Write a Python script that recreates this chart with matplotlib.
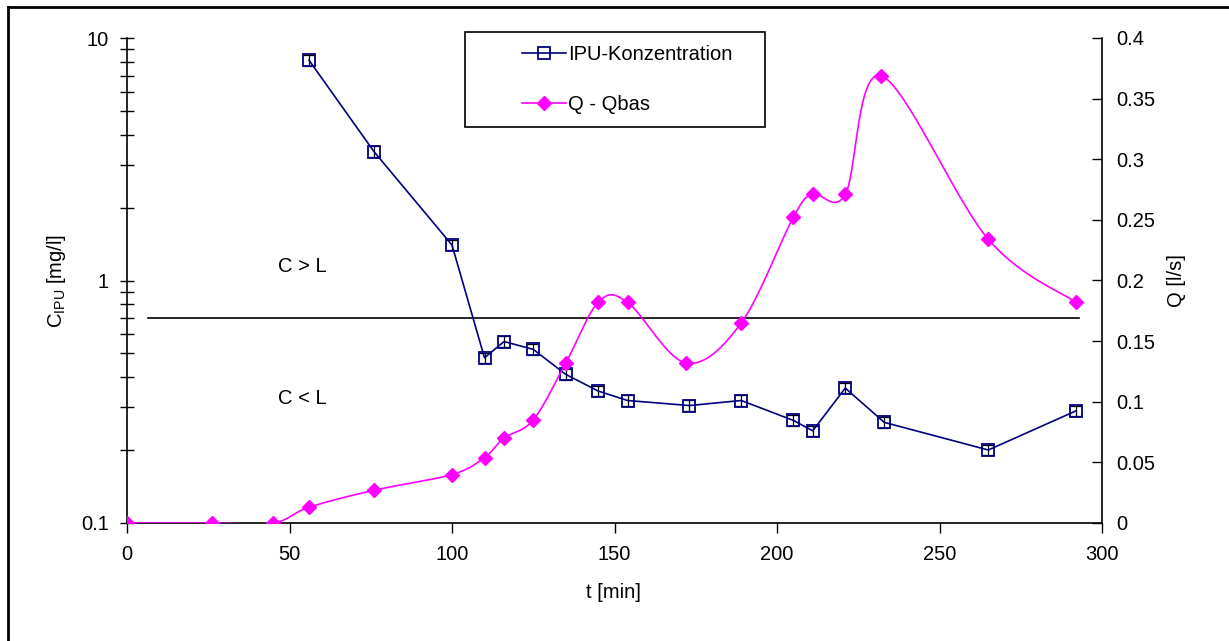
import numpy as np
import matplotlib.pyplot as plt
from matplotlib.patches import Rectangle
from matplotlib.lines import Line2D

plt.rcParams['font.family'] = ['Liberation Sans', 'DejaVu Sans']
plt.rcParams['mathtext.fontset'] = 'custom'
plt.rcParams['mathtext.rm'] = 'Liberation Sans'

# IPU concentration [mg/l]
t_ipu = [56, 76, 100, 110, 116, 125, 135, 145, 154, 173, 189, 205, 211, 221, 233, 265, 292]
c_ipu = [8.1, 3.4, 1.4, 0.48, 0.56, 0.52, 0.41, 0.35, 0.32, 0.305, 0.32, 0.265, 0.24, 0.36, 0.26, 0.2, 0.29]

# discharge Q - Qbas [l/s]
t_q = [0, 26, 45, 56, 76, 100, 110, 116, 125, 135, 145, 154, 172, 189, 205, 211, 221, 232, 265, 292]
q = [0, 0, 0, 0.013, 0.027, 0.040, 0.054, 0.070, 0.085, 0.132, 0.182, 0.182, 0.132, 0.165,
     0.252, 0.271, 0.271, 0.369, 0.234, 0.182]

# limit line
t_lim = [6.5, 293]
c_lim = [0.7, 0.7]

navy = '#000080'
magenta = '#FF00FF'
fs = 14.5


def smooth(x, y, n=20):
    # excel-style smoothed line (catmull-rom bezier)
    p = np.column_stack([x, y]).astype(float)
    p = np.vstack([p[0], p, p[-1]])
    out = []
    for i in range(1, len(p) - 2):
        p0, p1, p2, p3 = p[i - 1], p[i], p[i + 1], p[i + 2]
        b1 = p1 + (p2 - p0) / 6
        b2 = p2 - (p3 - p1) / 6
        s = np.linspace(0, 1, n)[:, None]
        out.append((1 - s) ** 3 * p1 + 3 * (1 - s) ** 2 * s * b1 + 3 * (1 - s) * s ** 2 * b2 + s ** 3 * p2)
    out = np.vstack(out)
    return out[:, 0], out[:, 1]


fig = plt.figure(figsize=(12.29, 6.41), dpi=100)
ax = fig.add_axes([127 / 1229, 1 - 523 / 641, (1102 - 127) / 1229, (523 - 38) / 641])

ax.plot(t_lim, c_lim, color='black', lw=1.2, zorder=2)
c_arr = np.array(c_ipu)
ax.errorbar(t_ipu, c_ipu, yerr=0.05 * c_arr, fmt='none', ecolor='black', elinewidth=0.9,
            capsize=4, capthick=0.9, zorder=3)
ax.plot(t_ipu, c_ipu, color=navy, lw=1.2, marker='s', ms=8, mfc='none', mec=navy, mew=1.3, zorder=4)

ax.set_yscale('log')
ax.set_ylim(0.1, 10)
ax.set_xlim(0, 300)
ax.set_xticks([0, 50, 100, 150, 200, 250, 300])
ax.set_yticks([0.1, 1, 10])
ax.set_yticklabels(['0.1', '1', '10'])
ax.tick_params(axis='y', which='both', direction='inout', length=10, width=1, labelsize=fs, pad=8)
ax.tick_params(axis='y', which='minor', labelleft=False)
ax.tick_params(axis='x', direction='out', length=7, width=1, labelsize=fs, pad=9)
for s in ['top', 'right']:
    ax.spines[s].set_visible(False)
ax.spines['left'].set_linewidth(1.2)
ax.spines['bottom'].set_linewidth(1.2)

ax2 = ax.twinx()
xs, ys = smooth(t_q, q)
ax2.plot(xs, ys, color=magenta, lw=1.2, zorder=3)
ax2.plot(t_q, q, ls='none', marker='D', ms=7, color=magenta, zorder=4)
ax2.set_ylim(0, 0.4)
ax2.set_yticks([0, 0.05, 0.1, 0.15, 0.2, 0.25, 0.3, 0.35, 0.4])
ax2.set_yticklabels(['0', '0.05', '0.1', '0.15', '0.2', '0.25', '0.3', '0.35', '0.4'])
ax2.tick_params(axis='y', direction='in', length=7, width=1, labelsize=fs, pad=10)
for s in ['top', 'left', 'bottom']:
    ax2.spines[s].set_visible(False)
ax2.spines['right'].set_linewidth(1.2)

ax.text(46.5, 1.14, 'C > L', fontsize=fs, ha='left', va='center')
ax.text(46.5, 0.326, 'C < L', fontsize=fs, ha='left', va='center')

fig.text(613 / 1229, 1 - 592 / 641, 't [min]', fontsize=fs, ha='center', va='center')
fig.text(57 / 1229, 1 - 281 / 641, r'C$_{\mathrm{IPU}}$ [mg/l]', fontsize=fs, rotation=90,
         ha='center', va='center')
fig.text(1177 / 1229, 1 - 281 / 641, 'Q [l/s]', fontsize=fs, rotation=90, ha='center', va='center')

# legend box
fig.patches.append(Rectangle((465 / 1229, 1 - 127 / 641), 300 / 1229, 95 / 641,
                             transform=fig.transFigure, fill=False, ec='black', lw=1.2))
h1 = Line2D([], [], color=navy, lw=1.2, marker='s', ms=8, mfc='none', mec=navy, mew=1.3)
h2 = Line2D([], [], color=magenta, lw=1.2, marker='D', ms=7)
fig.legend([h1, h2], ['IPU-Konzentration', 'Q - Qbas'], loc='upper left',
           bbox_to_anchor=(522 / 1229, 1 - 45 / 641), frameon=False, fontsize=fs,
           handlelength=2.2, handletextpad=0.1, labelspacing=1.55, borderpad=0, borderaxespad=0)

# outer frame
fig.add_artist(Line2D([8 / 1229, 8 / 1229], [0, 1 - 7 / 641], transform=fig.transFigure, color='black', lw=2))
fig.add_artist(Line2D([8 / 1229, 1], [1 - 7 / 641, 1 - 7 / 641], transform=fig.transFigure, color='black', lw=2))

fig.savefig('out.png', dpi=100)
